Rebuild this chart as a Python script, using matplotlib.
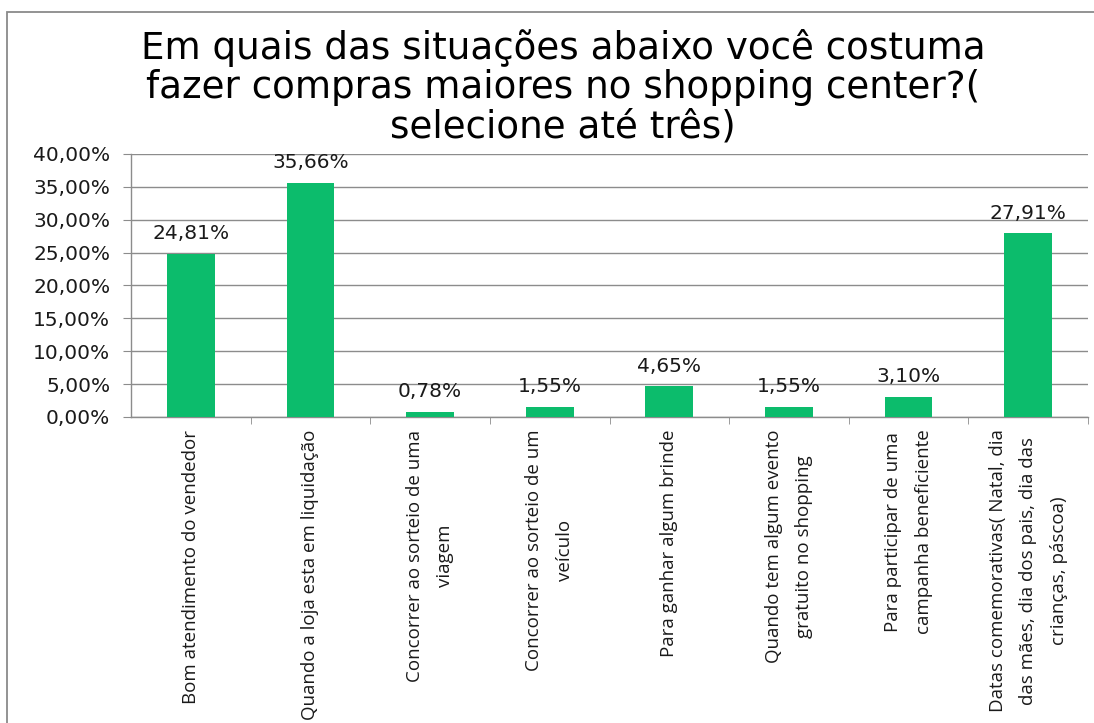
import matplotlib
matplotlib.use("Agg")
import matplotlib.pyplot as plt
from matplotlib.patches import Rectangle
from matplotlib.ticker import FuncFormatter, FixedLocator

title_lines = [
    "Em quais das situações abaixo você costuma",
    "fazer compras maiores no shopping center?(",
    "selecione até três)",
]

categories = [
    "Bom atendimento do vendedor",
    "Quando a loja esta em liquidação",
    "Concorrer ao sorteio de uma\nviagem",
    "Concorrer ao sorteio de um\nveículo",
    "Para ganhar algum brinde",
    "Quando tem algum evento\ngratuito no shopping",
    "Para participar de uma\ncampanha beneficiente",
    "Datas comemorativas( Natal, dia\ndas mães, dia dos pais, dia das\ncrianças, páscoa)",
]
values = [24.81, 35.66, 0.78, 1.55, 4.65, 1.55, 3.10, 27.91]
y_ticks = [0, 5, 10, 15, 20, 25, 30, 35, 40]

bar_color = "#0CBC6C"
grid_color = "#8C8C8C"
text_color = "#1a1a1a"

W, H = 1094, 723


def pct(v):
    return f"{v:.2f}".replace(".", ",") + "%"


fig = plt.figure(figsize=(W / 100, H / 100), dpi=100)
fig.patch.set_facecolor("white")

# outer chart frame
fig.add_artist(Rectangle((7 / W, -0.1), 1.2, 1 - 12 / H + 0.1,
                         transform=fig.transFigure, fill=False,
                         edgecolor="#8A8A8A", linewidth=1.3))

ax = fig.add_axes([131 / W, 1 - 417 / H, (1088 - 131) / W, (417 - 154) / H])
x = list(range(len(values)))
ax.bar(x, values, width=0.4, color=bar_color, zorder=3)
ax.set_xlim(-0.5, len(values) - 0.5)
ax.set_ylim(0, 40)
ax.set_yticks(y_ticks)
ax.yaxis.set_major_formatter(FuncFormatter(lambda v, p: pct(v)))
ax.grid(axis="y", color=grid_color, linewidth=1.0, zorder=0)

for s in ["top", "right"]:
    ax.spines[s].set_visible(False)
for s in ["left", "bottom"]:
    ax.spines[s].set_color(grid_color)
    ax.spines[s].set_linewidth(1.0)

ax.tick_params(axis="y", length=6, color=grid_color, labelsize=14.5, pad=9,
               labelcolor=text_color)
for lab in ax.get_yticklabels():
    lab.set_fontfamily("DejaVu Sans")

ax.set_xticks(x)
ax.set_xticklabels(categories, rotation=90, ha="center", va="top",
                   fontsize=13.5, family="Open Sans", color=text_color,
                   multialignment="center", linespacing=1.9)
ax.tick_params(axis="x", which="major", length=0, pad=9)
ax.xaxis.set_minor_locator(FixedLocator([i + 0.5 for i in x]))
ax.tick_params(axis="x", which="minor", length=5, color=grid_color)

for xi, v in zip(x, values):
    ax.text(xi, v + 2.2, pct(v), ha="center", va="baseline", fontsize=14.5,
            family="DejaVu Sans", color=text_color)

for line, base_px in zip(title_lines, [59, 98, 137]):
    fig.text(563 / W, 1 - base_px / H, line, ha="center", va="baseline",
             fontsize=26.8, family="DejaVu Sans", color="black")

fig.savefig("out.png", dpi=100)
